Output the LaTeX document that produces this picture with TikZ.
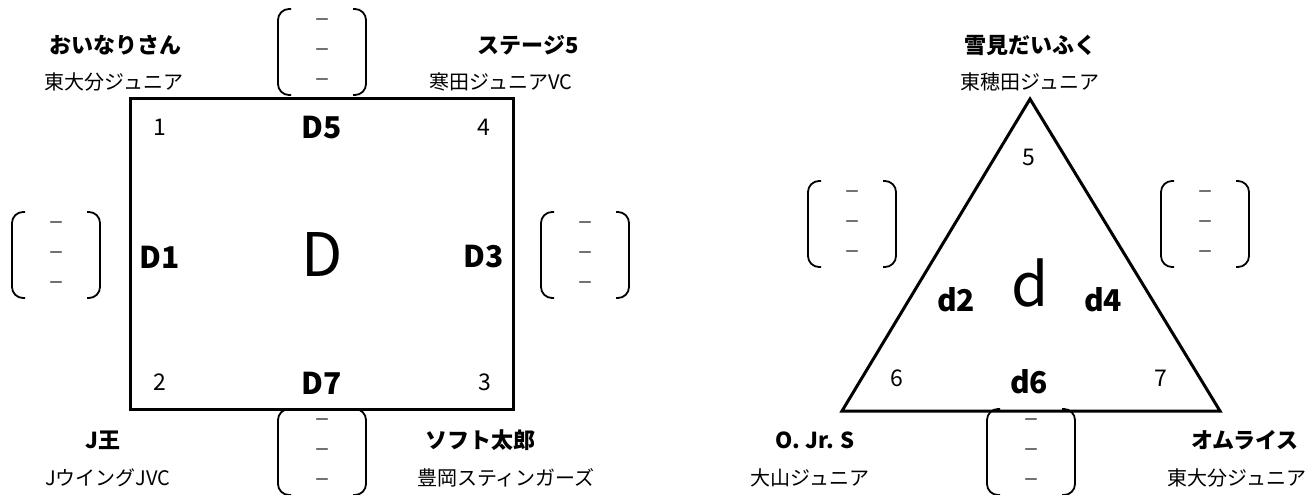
\documentclass[tikz,border=0pt]{standalone}
\usepackage{fontspec}
\setmainfont{Noto Sans CJK JP}
\tikzset{
	teamName/.style={font=\fontsize{22}{26}\selectfont\bfseries},
	clubName/.style={font=\fontsize{20}{24}\selectfont},
	cornerNum/.style={font=\fontsize{23}{27}\selectfont},
	matchLabel/.style={font=\fontsize{30}{34}\selectfont\bfseries},
	blockLabel/.style={font=\fontsize{60}{70}\selectfont},
	court/.style={line width=3pt, line join=miter},
	bracketLine/.style={line width=1.8pt, rounded corners=11pt},
	slotDash/.style={font=\fontsize{16}{18}\selectfont, inner sep=0pt},
	pics/slot/.style={code={
		\draw [bracketLine] (-31,-43) -- (-44,-43) -- (-44,43) -- (-31,43);
		\draw [bracketLine] (31,-43) -- (44,-43) -- (44,43) -- (31,43);
		\node [slotDash] (-a) at (0,-30) {－};
		\node [slotDash] (-b) at (0,0) {－};
		\node [slotDash] (-c) at (0,30) {－};
	}}
}

\begin{document}
\begin{tikzpicture}[x=1pt, y=-1pt]
\useasboundingbox (0,0) rectangle (1314,495);
% block D
\coordinate (sqNW) at (130,98);
\coordinate (sqSE) at (513,409);
\draw [court] (sqNW) rectangle (sqSE);

\node [cornerNum] (d1) at (160,127) {1};
\node [cornerNum] (d2) at (160,382) {2};
\node [cornerNum] (d3) at (485,382) {3};
\node [cornerNum] (d4) at (484,127) {4};
\node [matchLabel] (mD5) at (322,128) {D5};
\node [matchLabel] (mD1) at (160,257) {D1};
\node [matchLabel] (mD3) at (484,257) {D3};
\node [matchLabel] (mD7) at (322,383) {D7};
\node [blockLabel] (blockD) at (322,255) {D};

\pic (slotD5) at (322,52) {slot};
\pic (slotD1) at (56,255) {slot};
\pic (slotD3) at (585,255) {slot};
\pic (slotD7) at (322,452) {slot};

\node [teamName] (oinari) at (115,45) {おいなりさん};
\node [clubName] (oinariClub) at (114,82) {東大分ジュニア};
\node [teamName] (stage) at (528,45) {ステージ5};
\node [clubName] (stageClub) at (501,82) {寒田ジュニアVC};
\node [teamName] (jking) at (103,440) {J王};
\node [clubName] (jkingClub) at (108,478) {JウイングJVC};
\node [teamName] (soft) at (480,440) {ソフト太郎};
\node [clubName] (softClub) at (506,478) {豊岡スティンガーズ};

% block d
\coordinate (tA) at (1030,99);
\coordinate (tL) at (842,411);
\coordinate (tR) at (1220,411);
\draw [court] (tA) -- (tL) -- (tR) -- cycle;

\node [cornerNum] (d5) at (1029,157) {5};
\node [cornerNum] (d6) at (897,378) {6};
\node [cornerNum] (d7) at (1161,378) {7};
\node [matchLabel] (md2) at (956,300) {d2};
\node [matchLabel] (md4) at (1103,300) {d4};
\node [matchLabel] (md6) at (1029,382) {d6};
\node [blockLabel] (blockd) at (1030,283) {d};

\pic (slotd2) at (852,224) {slot};
\pic (slotd4) at (1205,224) {slot};
\pic (slotd6) at (1031,452) {slot};

\node [teamName] (yukimi) at (1030,45) {雪見だいふく};
\node [clubName] (yukimiClub) at (1030,82) {東穂田ジュニア};
\node [teamName] (ojrs) at (815,440) {O. Jr. S};
\node [clubName] (ojrsClub) at (810,478) {大山ジュニア};
\node [teamName] (omu) at (1245,440) {オムライス};
\node [clubName] (omuClub) at (1237,478) {東大分ジュニア};
\end{tikzpicture}
\end{document}
